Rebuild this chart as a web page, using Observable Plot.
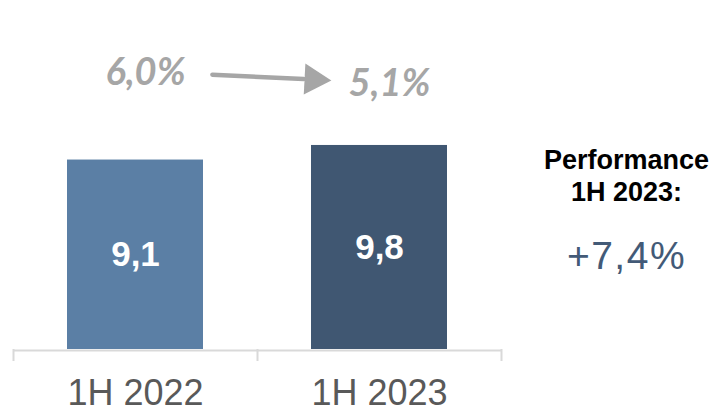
<!DOCTYPE html>
<html><head><meta charset="utf-8">
<script src="https://cdn.jsdelivr.net/npm/d3@7"></script>
<script src="https://cdn.jsdelivr.net/npm/@observablehq/plot@0.6"></script>
<style>
html,body{margin:0;padding:0;background:#fff;}
#wrap{display:flex;width:718px;height:409px;font-family:"Liberation Sans",Arial,sans-serif;overflow:hidden}
#chart{width:530px;height:409px}
#side{width:183px;padding-left:5px;text-align:center;}
#side .t{font-weight:bold;font-size:27px;line-height:32.5px;color:#000;margin-top:143.7px}
#side .v{font-size:39px;line-height:44px;letter-spacing:1.5px;color:#435A77;margin-top:25px}
</style></head><body>
<div id="wrap"><div id="chart"></div><div id="side"></div></div>
<script>
// ---- data ----
const categories = ["1H 2022", "1H 2023"];
const values = [9.1, 9.8];
const valueLabels = ["9,1", "9,8"];
const rates = [6.0, 5.1];
const rateLabels = ["6,0%", "5,1%"];
const performanceTitle = ["Performance", "1H 2023:"];
const performanceValue = "+7,4%";

// ---- styles / layout ----
const barColors = ["#5B7FA5", "#405772"];
const W = 530, H = 409;
const xLeft = 13, xRight = 501, baseY = 349;
const pxPerUnit = 20.82, yMax = 10;
const step = (xRight - xLeft) / categories.length;
const rateRow = r => 9.57 + 0.622 * r; // annotation row (y units) encoding the rate

const rows = categories.map((c, i) => ({cat: c, value: values[i], label: valueLabels[i], rate: rates[i], rateLabel: rateLabels[i]}));
const arrowData = [{from: categories[0], to: categories[1], y1: rateRow(rates[0]), y2: rateRow(rates[1])}];
const last = categories[categories.length - 1];

const chart = Plot.plot({
  width: W, height: H,
  marginLeft: xLeft, marginRight: W - xRight,
  marginTop: baseY - yMax * pxPerUnit, marginBottom: H - baseY,
  x: {domain: categories, paddingInner: 0.4426, paddingOuter: 0.2213, axis: null},
  y: {domain: [0, yMax], axis: null},
  color: {domain: categories, range: barColors},
  style: {fontFamily: "'Liberation Sans', Arial, sans-serif", background: "white", overflow: "visible"},
  marks: [
    Plot.ruleY([0], {stroke: "#D9D9D9", strokeWidth: 2, dy: 1}),
    Plot.ruleX(categories, {x: d => d, y1: () => 0, y2: () => 0, insetBottom: -12, dx: -step / 2, stroke: "#D9D9D9", strokeWidth: 2}),
    Plot.ruleX([last], {x: d => d, y1: () => 0, y2: () => 0, insetBottom: -12, dx: step / 2, stroke: "#D9D9D9", strokeWidth: 2}),
    Plot.barY(rows, {x: "cat", y: "value", fill: "cat"}),
    Plot.text(rows, {x: "cat", y: d => d.value / 2, text: "label", fill: "white", fontSize: 35, fontWeight: "bold"}),
    Plot.text(categories, {x: d => d, text: d => d, frameAnchor: "bottom", lineAnchor: "top", dy: 30, fontSize: 36, fill: "#595959"}),
    Plot.text(rows, {x: "cat", y: d => rateRow(d.rate), text: "rateLabel", dx: 10, fontSize: 38, fontWeight: "bold", fontStyle: "italic", fontFamily: "Lato", fill: "#A6A6A6"}),
    Plot.arrow(arrowData, {x1: "from", x2: "to", y1: "y1", y2: "y2", insetStart: 77, insetEnd: 76, headLength: 0, stroke: "#A6A6A6", strokeWidth: 4.5, dy: -1.5}),
    Plot.dot(arrowData, {x: "to", y: "y2", symbol: "triangle", r: 11.5, rotate: 93, fill: "#A6A6A6", stroke: "none", dx: -66, dy: -4.7})
  ]
});
document.getElementById("chart").appendChild(chart);

const side = document.getElementById("side");
const t = document.createElement("div"); t.className = "t";
performanceTitle.forEach((line, i) => { if (i) t.appendChild(document.createElement("br")); t.appendChild(document.createTextNode(line)); });
side.appendChild(t);
const v = document.createElement("div"); v.className = "v"; v.textContent = performanceValue;
side.appendChild(v);
</script>
</body></html>
